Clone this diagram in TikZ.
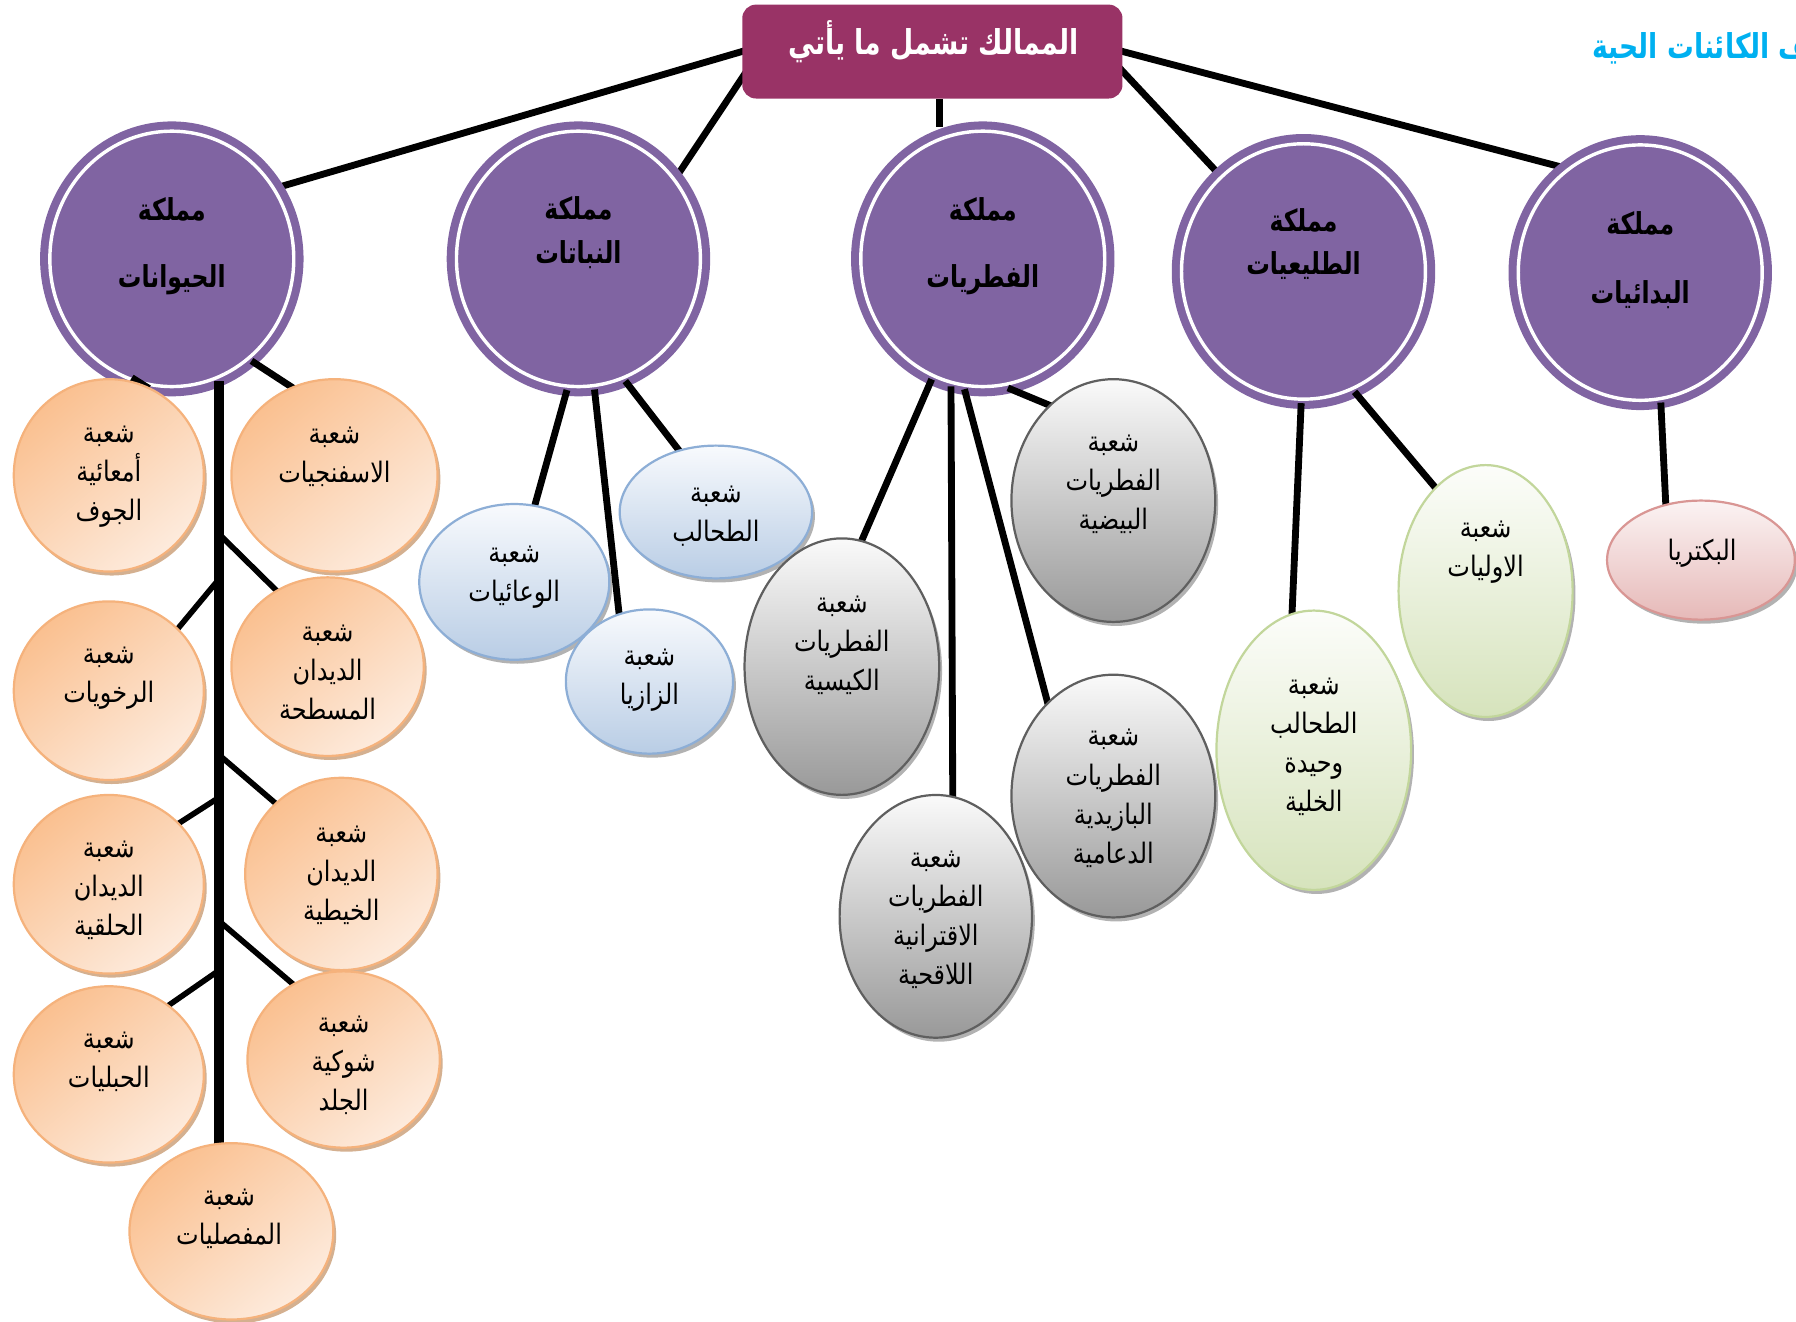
\documentclass[tikz,border=0pt]{standalone}
\usepackage{fontspec}
\newfontfamily\arabicfont[Script=Arabic, FakeStretch=0.85]{DejaVu Sans}
\newfontfamily\arabichead[Script=Arabic, FakeStretch=0.78]{DejaVu Sans}
\TeXXeTstate=1
\usetikzlibrary{shapes.geometric,shadows}

\definecolor{kpurple}{HTML}{8064A2}
\definecolor{hdrred}{HTML}{993366}
\definecolor{titleblue}{HTML}{00B0F0}
\definecolor{ortop}{HTML}{FAC090}
\definecolor{orbot}{HTML}{FDEBDD}
\definecolor{orline}{HTML}{F5B27C}
\definecolor{orshade}{HTML}{C99C74}
\definecolor{bltop}{HTML}{F8FAFD}
\definecolor{blbot}{HTML}{B9CDE5}
\definecolor{blline}{HTML}{8DAED6}
\definecolor{grtop}{HTML}{FAFAFA}
\definecolor{grbot}{HTML}{999999}
\definecolor{grline}{HTML}{5F5F5F}
\definecolor{gntop}{HTML}{FCFDFA}
\definecolor{gnbot}{HTML}{D6E3BC}
\definecolor{gnline}{HTML}{C2D69B}
\definecolor{pktop}{HTML}{FBF3F3}
\definecolor{pkbot}{HTML}{E6B9B8}
\definecolor{pkline}{HTML}{D99694}

\newcommand\artx[1]{\beginR #1\endR}

\pgfdeclarelayer{back}
\pgfdeclarelayer{kings}
\pgfdeclarelayer{links}
\pgfsetlayers{back,kings,links,main}

\tikzset{
  radii/.style 2 args={minimum width=#1*0.04cm, minimum height=#2*0.04cm},
  phylum/.style={ellipse, inner sep=0pt, line width=1.1pt},
  animal/.style={phylum, draw=orline, top color=ortop, bottom color=orbot, shading angle=40,
    drop shadow={shadow xshift=0.05cm, shadow yshift=-0.07cm, fill=orshade, opacity=0.8}},
  plant/.style={phylum, draw=blline, top color=bltop, bottom color=blbot,
    drop shadow={shadow xshift=0.05cm, shadow yshift=-0.07cm, fill=black, opacity=0.3}},
  fungus/.style={phylum, draw=grline, top color=grtop, bottom color=grbot,
    drop shadow={shadow xshift=0.05cm, shadow yshift=-0.07cm, fill=black, opacity=0.3}},
  protist/.style={phylum, draw=gnline, top color=gntop, bottom color=gnbot,
    drop shadow={shadow xshift=0.05cm, shadow yshift=-0.07cm, fill=black, opacity=0.3}},
  bacter/.style={phylum, draw=pkline, top color=pktop, bottom color=pkbot,
    drop shadow={shadow xshift=0.05cm, shadow yshift=-0.07cm, fill=black, opacity=0.3}},
  kingdom/.style={ellipse, inner sep=0pt, fill=kpurple, draw=kpurple, double=white,
    double distance=1.7pt, line width=4pt, minimum width=4.26cm, minimum height=4.46cm},
  ptxt/.style={font=\arabicfont\fontsize{14}{19.4}\selectfont, align=center, inner sep=0pt},
  ktxt/.style={font=\arabichead\bfseries\fontsize{15}{21.6}\selectfont, align=center, inner sep=0pt},
  link/.style={line width=3.4pt, shorten >=-6pt},
  branch/.style={line width=2.8pt, shorten >=-6pt}
}

\begin{document}
\begin{tikzpicture}[x=0.02cm, y=-0.02cm]
\useasboundingbox (0,0) rectangle (1568,1154);

% header and title
\node[rounded corners=0.24cm, fill=hdrred, minimum width=6.64cm, minimum height=1.64cm, inner sep=0pt] (hdr) at (814,45) {};
\node[font=\arabichead\bfseries\fontsize{17}{22}\selectfont, text=white, inner sep=0pt] (hdr-t) at (815,36) {\artx{الممالك تشمل ما يأتي}};
\node[font=\arabichead\bfseries\fontsize{17}{22}\selectfont, text=titleblue, anchor=west, inner sep=0pt] (title) at (1390,42) {\artx{تصنيف الكائنات الحية}};

% kingdoms
\begin{pgfonlayer}{kings}
\foreach \n/\x/\y in {animals/150/226, plants/505/226, fungi/858/226, protists/1138/237, monera/1432/238}
  \node[kingdom] (\n) at (\x,\y) {};
\node[ktxt] (animals-t) at (150,215) {\artx{مملكة}\\[12pt]\artx{الحيوانات}};
\node[ktxt] (plants-t) at (505,203) {\artx{مملكة}\\\artx{النباتات}};
\node[ktxt] (fungi-t) at (858,215) {\artx{مملكة}\\[12pt]\artx{الفطريات}};
\node[ktxt] (protists-t) at (1138,213) {\artx{مملكة}\\\artx{الطليعيات}};
\node[ktxt] (monera-t) at (1432,227) {\artx{مملكة}\\[13pt]\artx{البدائيات}};
\end{pgfonlayer}

% phyla
\foreach \n/\x/\y/\a/\b in {coel/95/415/83/84, sponge/292/415/90/84, mollusca/95/603/83/78,
  flat/286/582/84/78, annel/95/772/83/78, nema/298/763/84/84, chord/95/938/83/77,
  echino/300/925/84/77, arthro/202/1075/89/77}
  \node[animal, radii={\a}{\b}] (\n) at (\x,\y) {};
\foreach \n/\x/\y/\a/\b in {vasc/449/508/83/68, bryo/567/595/73/63, algae/625/447/84/58}
  \node[plant, radii={\a}{\b}] (\n) at (\x,\y) {};
\foreach \n/\x/\y/\a/\b in {ovo/972/437/89/106, asco/735/582/85/112, zygo/817/800/84/106, basid/972/695/89/106}
  \node[fungus, radii={\a}{\b}] (\n) at (\x,\y) {};
\foreach \n/\x/\y/\a/\b in {uni/1147/655/85/122, proto/1297/516/76/110}
  \node[protist, radii={\a}{\b}] (\n) at (\x,\y) {};
\node[bacter, radii={82}{52}] (bact) at (1485,489) {};

\node[ptxt] (coel-t) at (95,416) {\artx{شعبة}\\\artx{أمعائية}\\\artx{الجوف}};
\node[ptxt] (sponge-t) at (292,399) {\artx{شعبة}\\\artx{الاسفنجيات}};
\node[ptxt] (mollusca-t) at (95,592) {\artx{شعبة}\\\artx{الرخويات}};
\node[ptxt] (flat-t) at (286,587) {\artx{شعبة}\\\artx{الديدان}\\\artx{المسطحة}};
\node[ptxt] (annel-t) at (95,777) {\artx{شعبة}\\\artx{الديدان}\\\artx{الحلقية}};
\node[ptxt] (nema-t) at (298,764) {\artx{شعبة}\\\artx{الديدان}\\\artx{الخيطية}};
\node[ptxt] (chord-t) at (95,927) {\artx{شعبة}\\\artx{الحبليات}};
\node[ptxt] (echino-t) at (300,930) {\artx{شعبة}\\\artx{شوكية}\\\artx{الجلد}};
\node[ptxt] (arthro-t) at (200,1064) {\artx{شعبة}\\\artx{المفصليات}};
\node[ptxt] (vasc-t) at (449,504) {\artx{شعبة}\\\artx{الوعائيات}};
\node[ptxt] (bryo-t) at (567,594) {\artx{شعبة}\\\artx{الزازيا}};
\node[ptxt] (algae-t) at (625,451) {\artx{شعبة}\\\artx{الطحالب}};
\node[ptxt] (ovo-t) at (972,423) {\artx{شعبة}\\\artx{الفطريات}\\\artx{البيضية}};
\node[ptxt] (asco-t) at (735,563) {\artx{شعبة}\\\artx{الفطريات}\\\artx{الكيسية}};
\node[ptxt] (zygo-t) at (817,803) {\artx{شعبة}\\\artx{الفطريات}\\\artx{الاقترانية}\\\artx{اللاقحية}};
\node[ptxt] (basid-t) at (972,697) {\artx{شعبة}\\\artx{الفطريات}\\\artx{البازيدية}\\\artx{الدعامية}};
\node[ptxt] (uni-t) at (1147,652) {\artx{شعبة}\\\artx{الطحالب}\\\artx{وحيدة}\\\artx{الخلية}};
\node[ptxt] (proto-t) at (1297,482) {\artx{شعبة}\\\artx{الاوليات}};
\node[ptxt] (bact-t) at (1486,483) {\artx{البكتريا}};

% header connectors
\begin{pgfonlayer}{back}
\foreach \s/\t in {hdr.west/animals.34, hdr.188/plants.40, hdr.354/protists.131, hdr.east/monera.126}
  \draw[line width=3.4pt, shorten <=-4pt] (\s) -- (\t);
\draw[line width=3.4pt] ([xshift=0.12cm]hdr.south) -- ([xshift=0.12cm]hdr.south |- fungi.north);
\end{pgfonlayer}

% kingdom to phylum connectors
\begin{pgfonlayer}{links}
\coordinate (b1) at (190,465);
\coordinate (b2) at (190,507);
\coordinate (b3) at (190,658);
\coordinate (b4) at (190,697);
\coordinate (b5) at (190,803);
\coordinate (b6) at (190,848);
\draw[line width=5pt, shorten >=-6pt] (animals.291) -- (animals.291 |- arthro.north);
\foreach \s/\t in {b1/flat.124, b2/mollusca.42, b3/nema.133, b4/annel.41, b5/echino.124, b6/chord.49}
  \draw[branch] (\s) -- (\t);
\foreach \s/\t in {animals.308/sponge.116, animals.260/coel.70,
  plants.265/vasc.75, plants.277/bryo.114, plants.291/algae.121,
  fungi.247/asco.81, fungi.256/zygo.82, fungi.262/basid.125, fungi.281/ovo.124,
  protists.269/uni.99, protists.293/proto.116, monera.279/bact.122}
  \draw[link] (\s) -- (\t);
\end{pgfonlayer}
\end{tikzpicture}
\end{document}
